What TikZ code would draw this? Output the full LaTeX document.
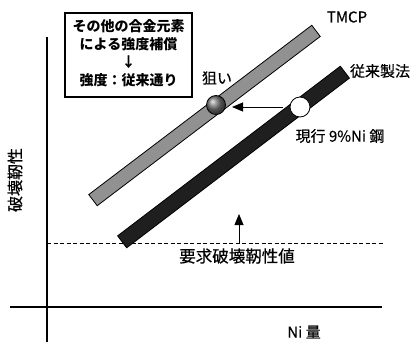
\documentclass[tikz,border=0pt]{standalone}
\usepackage{fontspec}
\setmainfont{Noto Sans CJK JP}
\newfontfamily\lblfont[FakeBold=0.5]{Noto Sans CJK JP}
\usetikzlibrary{arrows.meta,shadings}
\begin{document}
\begin{tikzpicture}[x=1pt,y=-1pt,
  axis/.style={line width=1.8pt},
  lbl/.style={font=\lblfont\fontsize{15}{16}\selectfont, inner sep=0pt},
  bar/.style={draw=black, line width=0.8pt, minimum height=14pt, inner sep=0pt, anchor=center},
  arr/.style={line width=1pt, -{Triangle[length=11pt,width=9pt]}}]
\useasboundingbox (0,0) rectangle (419,342);
% axes
\coordinate (vt) at (47,37);
\coordinate (vb) at (47,342);
\coordinate (hl) at (10,307);
\coordinate (hr) at (382,307);
\draw[axis] (vt) -- (vb);
\draw[axis] (hl) -- (hr);
% required line
\coordinate (dl) at (47,243);
\coordinate (dr) at (383,243);
\draw[line width=0.9pt, dash pattern=on 4pt off 2.5pt] (dl) -- (dr);
% bars
\node[bar, fill=black!43, minimum width=280pt, rotate=37.2] (tmcp) at (204.5,115.5) {};
\node[bar, fill=black!88, minimum width=280pt, rotate=37.3, minimum height=15pt] (conv) at (233.5,157) {};
% points
\node[circle, draw=black, line width=0.8pt, minimum size=19pt, inner sep=0pt, shading=ball, ball color=black!55] (aim) at (216,105) {};
\node[circle, draw=black, line width=0.8pt, fill=white, minimum size=20pt, inner sep=0pt] (cur) at (300,107) {};
\coordinate (cs) at (283,107);
\coordinate (ce) at (232,107);
\draw[arr] (cs) -- (ce);
% up arrow
\coordinate (ub) at (239,243);
\coordinate (ut) at (239,214);
\draw[line width=0.8pt, -{Triangle[length=11pt,width=9pt]}] (ub) -- (ut);
% box
\node[draw=black, line width=1.8pt, minimum width=127pt, minimum height=84pt, inner sep=0pt] (box) at (128.5,55) {};
\node[font=\fontsize{14}{18}\bfseries\selectfont, align=center, inner sep=0pt] (boxt) at (128.5,53) {その他の合金元素\\による強度補償\\↓\\強度：従来通り};
% labels
\node[lbl] (ltmcp) at (347,17) {TMCP};
\node[lbl] (lconv) at (380,71) {従来製法};
\node[lbl] (laim) at (217,78) {狙い};
\node[lbl] (lcur) at (340,136) {現行 9\%Ni 鋼};
\node[lbl, font=\lblfont\fontsize{16.5}{18}\selectfont] (lreq) at (237,256) {要求破壊靭性値};
\node[lbl, font=\lblfont\fontsize{16}{18}\selectfont, rotate=90] (ly) at (15,180) {破壊靭性};
\node[lbl] (lx) at (304,332) {Ni 量};
\end{tikzpicture}
\end{document}
